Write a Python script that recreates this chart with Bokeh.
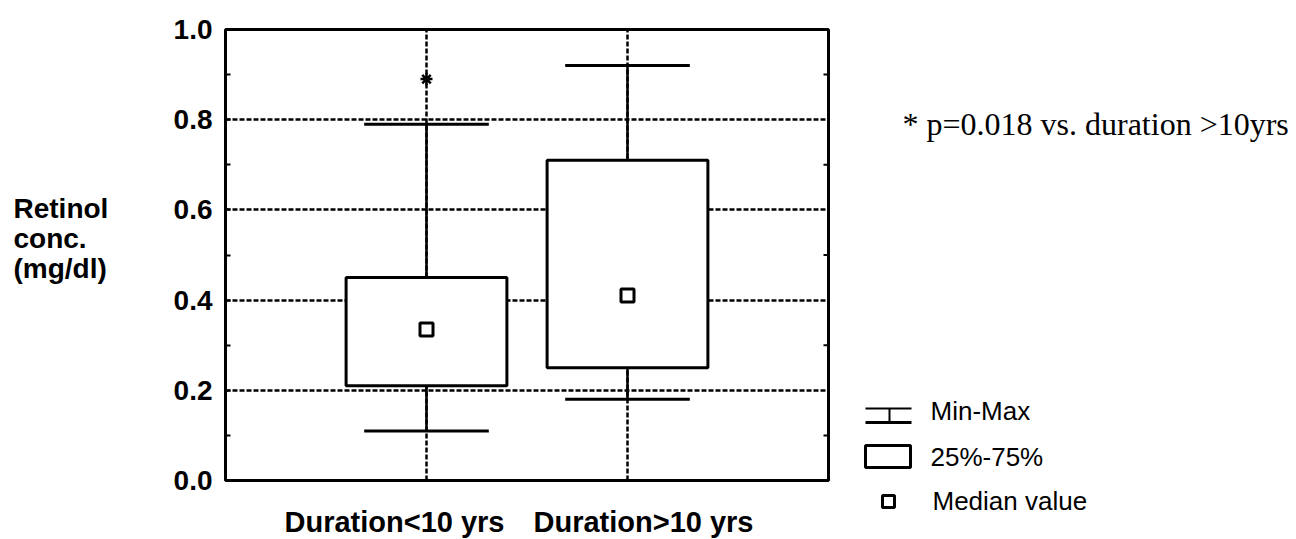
from bokeh.plotting import figure
from bokeh.models import Range1d, FixedTicker, NumeralTickFormatter
from bokeh.layouts import row, column
from bokeh.embed import file_html
from bokeh.resources import INLINE
from bokeh.core.properties import value

# ---- data ----
categories = ["Duration<10 yrs", "Duration>10 yrs"]
positions = [1, 2]
mins = [0.11, 0.18]
q1 = [0.21, 0.25]
medians = [0.335, 0.41]
q3 = [0.45, 0.71]
maxs = [0.79, 0.92]
sig_group = [1]
sig_value = [0.89]
y_ticks = [0.0, 0.2, 0.4, 0.6, 0.8, 1.0]
annotation = "* p=0.018 vs. duration >10yrs"
legend_labels = ["Min-Max", "25%-75%", "Median value"]
y_label_lines = ["Retinol", "conc.", "(mg/dl)"]

# ---- layout constants (pixels) ----
W, H = 1296, 539
LW = 140                       # left strip (y label)
FL, FR, FT, FB = 225, 828, 29, 480
main_w = FR + 10
MID_W = main_w - LW
MAIN_H = 500
BOX_W = 0.8
CAP_W = 0.62
SANS = value("Liberation Sans")
SERIF = value("Liberation Serif")


def blank(fig):
    fig.axis.visible = False
    fig.grid.visible = False
    fig.outline_line_color = None
    fig.background_fill_color = "white"
    fig.border_fill_color = "white"


# ---- main plot ----
p = figure(width=MID_W, height=MAIN_H, x_range=Range1d(0, 3), y_range=Range1d(0, 1),
           output_backend="svg", toolbar_location=None,
           min_border_left=FL - LW, min_border_right=main_w - FR,
           min_border_top=FT, min_border_bottom=MAIN_H - FB)
p.outline_line_color = "black"
p.outline_line_width = 3
p.outline_line_alpha = 1
p.background_fill_color = "white"
p.border_fill_color = "white"
p.xaxis.visible = False

minor = [(a + b) / 2 for a, b in zip(y_ticks[:-1], y_ticks[1:])]
p.yaxis.ticker = FixedTicker(ticks=y_ticks, minor_ticks=minor)
p.yaxis.formatter = NumeralTickFormatter(format="0.0")
p.yaxis.axis_line_color = None
p.yaxis.major_tick_in = 5
p.yaxis.major_tick_out = 0
p.yaxis.minor_tick_in = 5
p.yaxis.minor_tick_out = 0
p.yaxis.major_tick_line_width = 2
p.yaxis.minor_tick_line_width = 2
p.yaxis.major_tick_line_color = "black"
p.yaxis.minor_tick_line_color = "black"
p.yaxis.major_label_text_font = "Liberation Sans"
p.yaxis.major_label_text_font_style = "bold"
p.yaxis.major_label_text_font_size = "28px"
p.yaxis.major_label_text_color = "black"
p.yaxis.major_label_standoff = 13

# grids
p.xgrid.ticker = FixedTicker(ticks=positions)
p.ygrid.ticker = FixedTicker(ticks=y_ticks)
for g in (p.xgrid, p.ygrid):
    g.grid_line_color = "black"
    g.grid_line_dash = "5 2"
    g.grid_line_width = 2.5
    g.grid_line_alpha = 1

# small inward ticks on the right border
x_end = p.x_range.end
tick_len = 5.0 / ((FR - FL) / 3.0)
p.segment(x0=[x_end - tick_len] * len(minor), y0=minor, x1=[x_end] * len(minor), y1=minor,
          line_color="black", line_width=2)

# whiskers
p.segment(x0=positions, y0=q3, x1=positions, y1=maxs, line_color="black", line_width=2.5)
p.segment(x0=positions, y0=q1, x1=positions, y1=mins, line_color="black", line_width=2.5)
# caps
cl = [x - CAP_W / 2 for x in positions]
cr = [x + CAP_W / 2 for x in positions]
p.segment(x0=cl, y0=maxs, x1=cr, y1=maxs, line_color="black", line_width=3)
p.segment(x0=cl, y0=mins, x1=cr, y1=mins, line_color="black", line_width=3)
# boxes
p.quad(left=[x - BOX_W / 2 for x in positions], right=[x + BOX_W / 2 for x in positions],
       bottom=q1, top=q3, fill_color="white", line_color="black", line_width=3)
# medians
p.scatter(positions, medians, marker="square", size=13, fill_color="white",
          line_color="black", line_width=3)
# significance asterisk
p.scatter(sig_group, sig_value, marker="asterisk", size=12, line_color="black", line_width=2.5)

# ---- bottom strip: category labels (shares x range) ----
b = figure(width=MID_W, height=H - MAIN_H, x_range=p.x_range, y_range=Range1d(H, MAIN_H),
           output_backend="svg", toolbar_location=None,
           min_border_left=FL - LW, min_border_right=main_w - FR,
           min_border_top=0, min_border_bottom=0)
blank(b)
b.text(x=positions, y=[521] * len(positions), text=categories, x_offset=[-32, 16],
       text_font=SANS, text_font_style="bold", text_font_size="29px",
       text_align="center", text_baseline="middle", text_color="black")

# ---- left strip: y label ----
lf = figure(width=LW, height=H, x_range=Range1d(0, LW), y_range=Range1d(H, 0),
            output_backend="svg", toolbar_location=None, min_border=0)
blank(lf)
lf.text(x=[13] * len(y_label_lines), y=[208, 238, 268], text=y_label_lines,
        text_font=SANS, text_font_style="bold", text_font_size="28px",
        text_align="left", text_baseline="middle", text_color="black")

# ---- right strip: annotation and legend ----
r = figure(width=W - main_w, height=H, x_range=Range1d(main_w, W), y_range=Range1d(H, 0),
           output_backend="svg", toolbar_location=None, min_border=0)
blank(r)
r.text(x=[902], y=[123], text=[annotation], text_font=SERIF, text_font_size="32px",
       text_baseline="middle", text_align="left", text_color="black")

r.segment(x0=[865, 865], y0=[408, 422], x1=[911, 911], y1=[408, 422],
          line_color="black", line_width=[2, 3])
r.segment(x0=[889], y0=[408], x1=[889], y1=[422], line_color="black", line_width=2)
r.quad(left=[865], right=[910], top=[445], bottom=[467], fill_color=None,
       line_color="black", line_width=3)
r.scatter([888], [501], marker="square", size=12, fill_color="white",
          line_color="black", line_width=3)
r.text(x=[930, 930, 932], y=[410, 456, 500], text=legend_labels, text_font=SANS,
       text_font_size="26px", text_baseline="middle", text_align="left", text_color="black")

layout = row(lf, column(p, b), r)
open("out.html", "w").write(file_html(layout, INLINE))
